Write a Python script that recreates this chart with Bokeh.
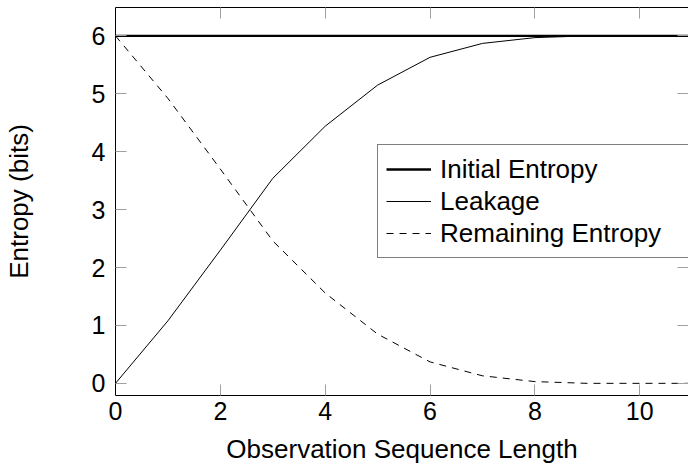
from bokeh.plotting import figure
from bokeh.models import LinearAxis, FixedTicker, Range1d, CustomJSTickFormatter
from bokeh.embed import file_html
from bokeh.resources import INLINE

# ---- data ----
seq_len = [0, 1, 2, 3, 4, 5, 6, 7, 8, 9, 10, 11]
initial_entropy = [6, 6, 6, 6, 6, 6, 6, 6, 6, 6, 6, 6]
leakage = [0.0, 1.08, 2.30, 3.54, 4.44, 5.15, 5.63, 5.87, 5.97, 6.0, 6.0, 6.0]
remaining_entropy = [6.0, 4.92, 3.70, 2.46, 1.56, 0.85, 0.37, 0.13, 0.03, 0.0, 0.0, 0.0]
x_ticks = [0, 2, 4, 6, 8, 10]
y_ticks = [0, 1, 2, 3, 4, 5, 6]

FONT = "Liberation Sans"
TICK_COLOR = "#a0a0a0"

p = figure(width=688, height=466,
           x_range=Range1d(0, 10.93), y_range=Range1d(-0.21, 6.49),
           output_backend="svg", toolbar_location=None,
           min_border_left=114, min_border_right=0,
           min_border_top=7, min_border_bottom=0)
p.grid.visible = False
p.outline_line_color = None
p.background_fill_color = "white"
p.border_fill_color = "white"

p.line(seq_len, initial_entropy, line_color="black", line_width=2.4,
       legend_label="Initial Entropy")
p.line(seq_len, leakage, line_color="black", line_width=1,
       legend_label="Leakage")
p.line(seq_len, remaining_entropy, line_color="black", line_width=1,
       line_dash="7 6", legend_label="Remaining Entropy")


def style_axis(ax, show_labels=True, show_line=True):
    ax.axis_line_color = "black" if show_line else None
    ax.axis_line_width = 1
    ax.major_tick_in = 11
    ax.major_tick_out = 0
    ax.minor_tick_in = 0
    ax.minor_tick_out = 0
    ax.minor_tick_line_color = None
    ax.major_tick_line_color = TICK_COLOR
    ax.major_tick_line_width = 1
    if show_labels:
        ax.major_label_text_font = FONT
        ax.major_label_text_font_size = "25px"
        ax.major_label_text_color = "black"
    else:
        ax.formatter = CustomJSTickFormatter(code="return ''")
        ax.major_label_standoff = 0


xa = p.xaxis[0]
xa.ticker = FixedTicker(ticks=x_ticks)
style_axis(xa)
xa.major_label_standoff = 6
xa.axis_label = "Observation Sequence Length"
xa.axis_label_text_font = FONT
xa.axis_label_text_font_size = "26px"
xa.axis_label_text_font_style = "normal"
xa.axis_label_text_color = "black"
xa.axis_label_standoff = 11

ya = p.yaxis[0]
ya.ticker = FixedTicker(ticks=y_ticks)
style_axis(ya)
ya.major_label_standoff = 10
ya.axis_label = "Entropy (bits)"
ya.axis_label_text_font = FONT
ya.axis_label_text_font_size = "26px"
ya.axis_label_text_font_style = "normal"
ya.axis_label_text_color = "black"
ya.axis_label_standoff = 55

top = LinearAxis(ticker=FixedTicker(ticks=x_ticks))
style_axis(top, show_labels=False)
p.add_layout(top, "above")

right = LinearAxis(ticker=FixedTicker(ticks=y_ticks))
style_axis(right, show_labels=False, show_line=False)
p.add_layout(right, "right")

lg = p.legend[0]
lg.location = (262, 137)
lg.margin = 0
lg.padding = 8
lg.spacing = 0
lg.glyph_width = 45
lg.glyph_height = 32
lg.label_height = 32
lg.label_width = 242
lg.label_standoff = 9
lg.label_text_font = FONT
lg.label_text_font_size = "26px"
lg.label_text_color = "black"
lg.border_line_color = "black"
lg.border_line_width = 1
lg.background_fill_color = "white"
lg.background_fill_alpha = 1.0

open("out.html", "w").write(file_html(p, INLINE))
